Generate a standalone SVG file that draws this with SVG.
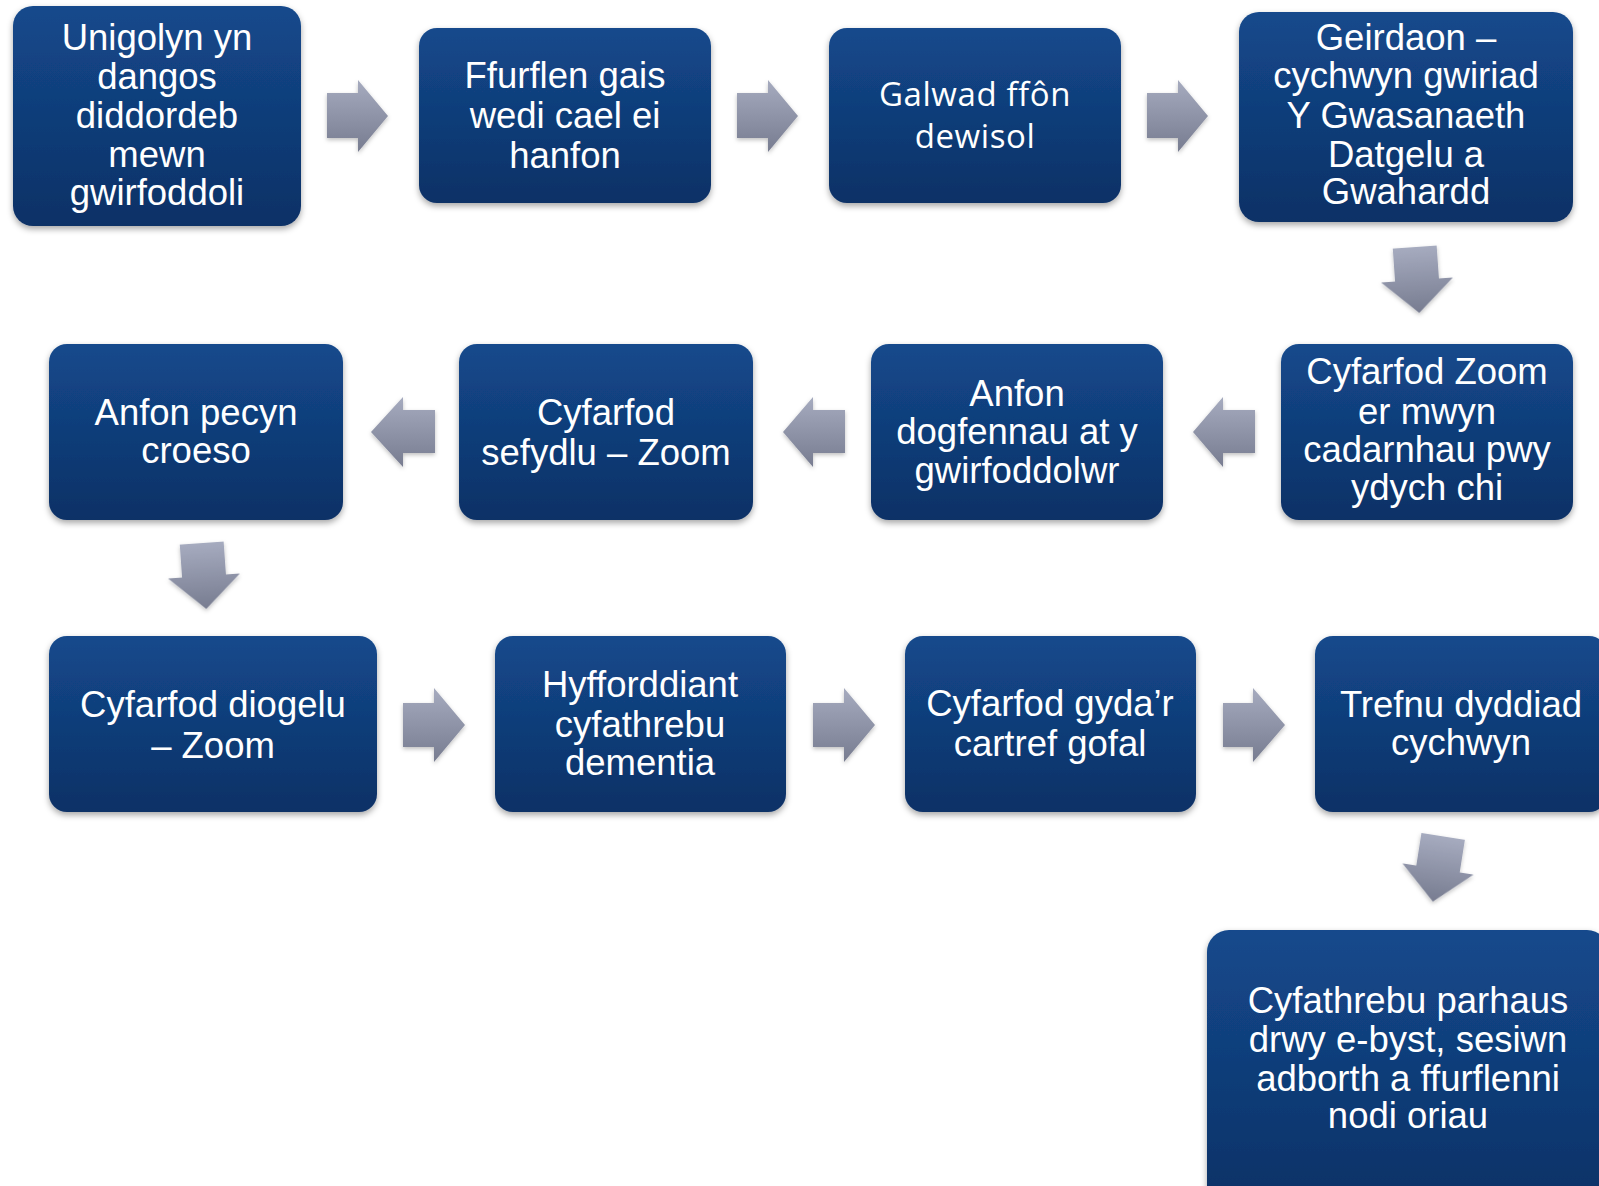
<svg xmlns="http://www.w3.org/2000/svg" width="1599" height="1186" viewBox="0 0 1599 1186">
<defs>
<linearGradient id="boxGrad" x1="0" y1="0" x2="0" y2="1">
<stop offset="0" stop-color="#14498c"/>
<stop offset="1" stop-color="#0c3166"/>
</linearGradient>
<linearGradient id="arrGrad" x1="0" y1="0" x2="0" y2="1">
<stop offset="0" stop-color="#a6abbf"/>
<stop offset="1" stop-color="#777c90"/>
</linearGradient>
<filter id="shadow" x="-10%" y="-10%" width="120%" height="125%">
<feDropShadow dx="0" dy="3" stdDeviation="3" flood-color="#000" flood-opacity="0.35"/>
</filter>
<filter id="ashadow" x="-20%" y="-20%" width="140%" height="140%">
<feDropShadow dx="0" dy="2" stdDeviation="2" flood-color="#000" flood-opacity="0.25"/>
</filter>
</defs>
<style>
.box{fill:url(#boxGrad);filter:url(#shadow);}
.t{fill:#fff;font-family:"Liberation Sans",Arial,sans-serif;font-size:36.5px;text-anchor:middle;}
.t2{fill:#fff;font-family:"Open Sans","Noto Sans",sans-serif;font-size:33px;letter-spacing:0.6px;text-anchor:middle;}
.arr{fill:url(#arrGrad);filter:url(#ashadow);}
</style>
<rect width="1599" height="1186" fill="#fff"/>

<g id="connectors">
<polygon class="arr" points="327,93 358,93 358,80 388,116 358,152 358,138 327,138"/>
<polygon class="arr" points="737,93 768,93 768,80 798,116 768,152 768,138 737,138"/>
<polygon class="arr" points="1147,93 1178,93 1178,80 1208,116 1178,152 1178,138 1147,138"/>
<polygon class="arr" transform="translate(1417,280) rotate(-4)" points="-22,-33 22,-33 22,0 36,0 0,33 -36,0 -22,0"/>
<polygon class="arr" points="1255,410 1223,410 1223,397 1193,432 1223,467 1223,453 1255,453"/>
<polygon class="arr" points="845,410 813,410 813,397 783,432 813,467 813,453 845,453"/>
<polygon class="arr" points="435,410 403,410 403,397 371,432 403,467 403,453 435,453"/>
<polygon class="arr" transform="translate(204,576) rotate(-4)" points="-22,-33 22,-33 22,0 36,0 0,33 -36,0 -22,0"/>
<polygon class="arr" points="403,703 434,703 434,688 465,725 434,762 434,747 403,747"/>
<polygon class="arr" points="813,703 844,703 844,688 875,725 844,762 844,747 813,747"/>
<polygon class="arr" points="1223,703 1253,703 1253,688 1285,725 1253,762 1253,747 1223,747"/>
<polygon class="arr" transform="translate(1438,869) rotate(9)" points="-22,-33 22,-33 22,0 36,0 0,33 -36,0 -22,0"/>
</g>

<g id="node1">
<rect class="box" x="13" y="6" width="288" height="220" rx="20"/>
<text class="t" x="157" y="50">Unigolyn yn</text>
<text class="t" x="157" y="89">dangos</text>
<text class="t" x="157" y="128">diddordeb</text>
<text class="t" x="157" y="167">mewn</text>
<text class="t" x="157" y="205">gwirfoddoli</text>
</g>
<g id="node2">
<rect class="box" x="419" y="28" width="292" height="175" rx="18"/>
<text class="t" x="565" y="88">Ffurflen gais</text>
<text class="t" x="565" y="128">wedi cael ei</text>
<text class="t" x="565" y="168">hanfon</text>
</g>
<g id="node3">
<rect class="box" x="829" y="28" width="292" height="175" rx="18"/>
<text class="t2" x="975" y="106">Galwad ffôn</text>
<text class="t2" x="975" y="148">dewisol</text>
</g>
<g id="node4">
<rect class="box" x="1239" y="12" width="334" height="210" rx="20"/>
<text class="t" x="1406" y="50">Geirdaon –</text>
<text class="t" x="1406" y="88">cychwyn gwiriad</text>
<text class="t" x="1406" y="128">Y Gwasanaeth</text>
<text class="t" x="1406" y="167">Datgelu a</text>
<text class="t" x="1406" y="204">Gwahardd</text>
</g>
<g id="node5">
<rect class="box" x="1281" y="344" width="292" height="176" rx="18"/>
<text class="t" x="1427" y="384">Cyfarfod Zoom</text>
<text class="t" x="1427" y="424">er mwyn</text>
<text class="t" x="1427" y="462">cadarnhau pwy</text>
<text class="t" x="1427" y="500">ydych chi</text>
</g>
<g id="node6">
<rect class="box" x="871" y="344" width="292" height="176" rx="18"/>
<text class="t" x="1017" y="406">Anfon</text>
<text class="t" x="1017" y="444">dogfennau at y</text>
<text class="t" x="1017" y="483">gwirfoddolwr</text>
</g>
<g id="node7">
<rect class="box" x="459" y="344" width="294" height="176" rx="18"/>
<text class="t" x="606" y="425">Cyfarfod</text>
<text class="t" x="606" y="465">sefydlu – Zoom</text>
</g>
<g id="node8">
<rect class="box" x="49" y="344" width="294" height="176" rx="18"/>
<text class="t" x="196" y="425">Anfon pecyn</text>
<text class="t" x="196" y="463">croeso</text>
</g>
<g id="node9">
<rect class="box" x="49" y="636" width="328" height="176" rx="18"/>
<text class="t" x="213" y="717">Cyfarfod diogelu</text>
<text class="t" x="213" y="758">– Zoom</text>
</g>
<g id="node10">
<rect class="box" x="495" y="636" width="291" height="176" rx="18"/>
<text class="t" x="640" y="697">Hyfforddiant</text>
<text class="t" x="640" y="737">cyfathrebu</text>
<text class="t" x="640" y="775">dementia</text>
</g>
<g id="node11">
<rect class="box" x="905" y="636" width="291" height="176" rx="18"/>
<text class="t" x="1050" y="716">Cyfarfod gyda’r</text>
<text class="t" x="1050" y="756">cartref gofal</text>
</g>
<g id="node12">
<rect class="box" x="1315" y="636" width="292" height="176" rx="18"/>
<text class="t" x="1461" y="717">Trefnu dyddiad</text>
<text class="t" x="1461" y="755">cychwyn</text>
</g>
<g id="node13">
<rect class="box" x="1207" y="930" width="402" height="280" rx="22"/>
<text class="t" x="1408" y="1013">Cyfathrebu parhaus</text>
<text class="t" x="1408" y="1052">drwy e-byst, sesiwn</text>
<text class="t" x="1408" y="1091">adborth a ffurflenni</text>
<text class="t" x="1408" y="1128">nodi oriau</text>
</g>
</svg>
